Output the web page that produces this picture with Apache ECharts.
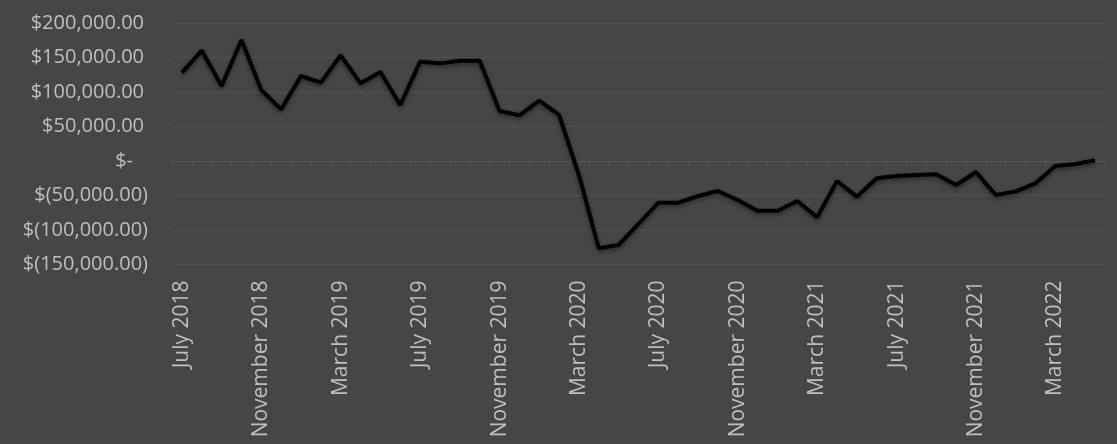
<!DOCTYPE html>
<html>
<head>
<meta charset="utf-8">
<script src="https://cdn.jsdelivr.net/npm/echarts@6/dist/echarts.min.js"></script>
<style>
  html, body { margin: 0; padding: 0; background: #464646; }
  #chart { width: 1117px; height: 444px; }
</style>
</head>
<body>
<div id="chart"></div>
<script>
const months = [
  'July 2018','August 2018','September 2018','October 2018','November 2018','December 2018',
  'January 2019','February 2019','March 2019','April 2019','May 2019','June 2019',
  'July 2019','August 2019','September 2019','October 2019','November 2019','December 2019',
  'January 2020','February 2020','March 2020','April 2020','May 2020','June 2020',
  'July 2020','August 2020','September 2020','October 2020','November 2020','December 2020',
  'January 2021','February 2021','March 2021','April 2021','May 2021','June 2021',
  'July 2021','August 2021','September 2021','October 2021','November 2021','December 2021',
  'January 2022','February 2022','March 2022','April 2022','May 2022'
];
const values = [
  128000, 160000, 108700, 175400, 102900, 74900,
  123200, 113500, 153200, 112600, 129000, 81200,
  144000, 141500, 145400, 145400, 72500, 66200,
  87400, 66700, -20300, -126500, -121700, -91300,
  -60400, -60400, -50700, -43500, -56500, -72000,
  -72000, -58000, -81600, -29000, -51700, -25100,
  -21700, -20300, -19300, -34800, -15900, -49300,
  -44000, -32400, -7200, -4300, 1000
];
const yMin = -150000, yMax = 200000, yStep = 50000;

function fmtAcct(v) {
  if (v === 0) return '{z|$-}';
  const s = Math.abs(v).toLocaleString('en-US', {minimumFractionDigits: 2, maximumFractionDigits: 2});
  return v < 0 ? '{n|$(' + s + ')}' : '{p|$' + s + '}';
}

const labelColor = '#bfbfbf';
const font = '"Open Sans", "Liberation Sans", sans-serif';
const ySize = 20;
const chart = echarts.init(document.getElementById('chart'), null, {renderer: 'canvas'});
chart.setOption({
  backgroundColor: '#464646',
  animation: false,
  grid: { left: 172, right: 12, top: 23, bottom: 179.5, containLabel: false },
  xAxis: [
    {
      type: 'category',
      data: months,
      boundaryGap: true,
      position: 'bottom',
      axisLine: { show: false, onZero: false },
      axisTick: { show: false },
      splitLine: { show: false },
      axisLabel: {
        interval: 3,
        rotate: 90,
        margin: 16,
        color: labelColor,
        fontFamily: font,
        fontSize: 21
      }
    },
    {
      type: 'category',
      data: months,
      boundaryGap: true,
      position: 'bottom',
      axisLine: { show: true, onZero: true, lineStyle: { color: '#585858', width: 1 } },
      axisTick: { show: true, interval: 0, length: 5, lineStyle: { color: '#585858' } },
      axisLabel: { show: false },
      splitLine: { show: false }
    }
  ],
  yAxis: {
    type: 'value',
    min: yMin,
    max: yMax,
    interval: yStep,
    axisLine: { show: false },
    axisTick: { show: false },
    splitLine: { show: true, lineStyle: { color: '#525252', width: 1 } },
    axisLabel: {
      margin: 24,
      formatter: fmtAcct,
      color: labelColor,
      fontFamily: font,
      fontSize: ySize,
      rich: {
        p: { color: labelColor, fontFamily: font, fontSize: ySize, padding: [0, 4, 0, 0] },
        n: { color: labelColor, fontFamily: font, fontSize: ySize },
        z: { color: labelColor, fontFamily: font, fontSize: ySize, padding: [0, 15, 0, 0] }
      }
    }
  },
  series: [{
    type: 'line',
    xAxisIndex: 0,
    data: values,
    symbol: 'none',
    lineStyle: {
      color: '#000000',
      width: 4,
      shadowColor: 'rgba(0,0,0,0.45)',
      shadowBlur: 4,
      shadowOffsetY: 2
    },
    itemStyle: { color: '#000000' }
  }]
});
</script>
</body>
</html>
